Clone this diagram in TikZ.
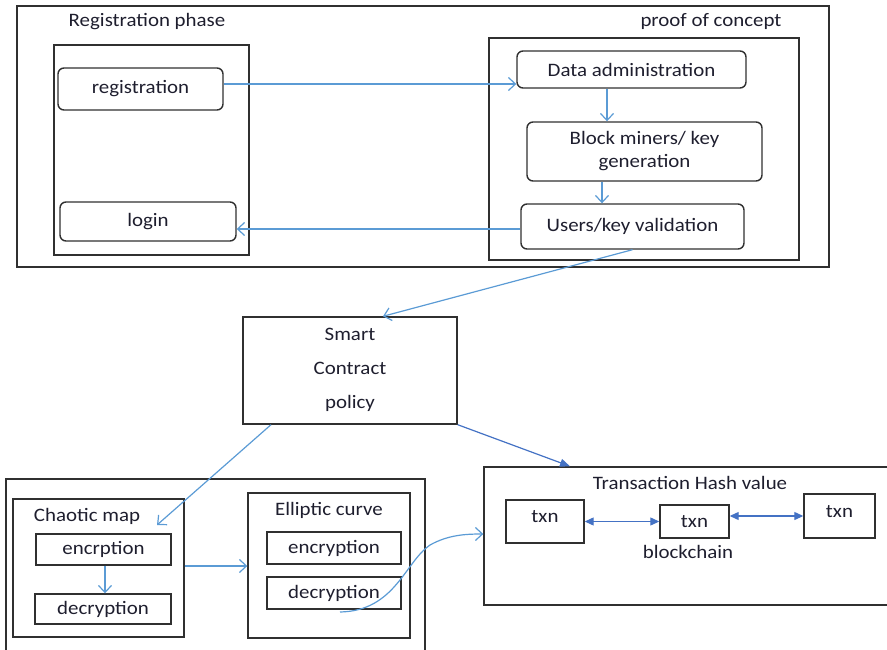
\documentclass[tikz,border=0pt]{standalone}
\usepackage{fontspec}
\setmainfont{Carlito}[FakeStretch=1.1]
\usetikzlibrary{arrows.meta}
\definecolor{lblue}{HTML}{5B9BD5}
\definecolor{dblue}{HTML}{4472C4}
\definecolor{edge}{HTML}{303030}
\definecolor{txt}{HTML}{1E1E2E}
\tikzset{
  box/.style={draw=edge, line width=1.4bp, inner sep=0pt, text=txt},
  rbox/.style={box, rounded corners=6bp},
  lbl/.style={inner sep=0pt, text=txt},
  arr/.style={draw=lblue, line width=1.2bp, -{Straight Barb[length=7bp,width=13bp]}},
  darr/.style={draw=dblue, line width=1.2bp, -{Triangle[length=10bp,width=8bp]}},
  dbl/.style={draw=dblue, line width=1.2bp, {Triangle[length=9bp,width=8bp]}-{Triangle[length=9bp,width=8bp]}},
}
\begin{document}
\begin{tikzpicture}[x=1bp,y=-1bp, font=\fontsize{19bp}{23bp}\selectfont]
\useasboundingbox (0,0) rectangle (887,650);
% top part
\node[box, minimum width=812bp, minimum height=261bp] (outerTop) at (423,136.5) {};
\node[lbl] (regPhase) at (147,22) {Registration phase};
\node[lbl] (poc) at (711,22) {proof of concept};
\node[box, minimum width=195bp, minimum height=210bp] (leftIn) at (151.5,150) {};
\node[rbox, minimum width=165bp, minimum height=42bp] (reg) at (140.5,89) {registration};
\node[rbox, minimum width=176bp, minimum height=39bp] (login) at (148,221.5) {login};
\node[box, minimum width=310bp, minimum height=222bp] (rightIn) at (644,149) {};
\node[rbox, minimum width=229bp, minimum height=37bp] (data) at (631.5,69.5) {Data administration};
\node[rbox, minimum width=235bp, minimum height=59bp, align=center] (block) at (644.5,151.5) {Block miners/ key\\generation};
\node[rbox, minimum width=223bp, minimum height=45bp] (users) at (632.5,226.5) {Users/key validation};
% smart contract
\node[box, minimum width=214bp, minimum height=107bp] (smart) at (350,370.5) {};
\node[lbl] (sm1) at (350,334) {Smart};
\node[lbl] (sm2) at (350,368) {Contract};
\node[lbl] (sm3) at (350,403) {policy};
% bottom left
\node[box, minimum width=419bp, minimum height=185bp] (botLeft) at (215.5,571.5) {};
\node[box, minimum width=171bp, minimum height=138bp] (chaotic) at (98.5,568) {};
\node[lbl] (chT) at (87,516) {Chaotic map};
\node[box, minimum width=135bp, minimum height=31bp] (enc1) at (103.5,549.5) {encrption};
\node[box, minimum width=136bp, minimum height=30bp] (dec1) at (103,609) {decryption};
\node[box, minimum width=162bp, minimum height=145bp] (elliptic) at (329,565.5) {};
\node[lbl] (elT) at (329,510) {Elliptic curve};
\node[box, minimum width=134bp, minimum height=32bp] (enc2) at (334,548) {encryption};
\node[box, minimum width=134bp, minimum height=32bp] (dec2) at (334,593) {decryption};
% transaction
\node[box, minimum width=411bp, minimum height=138bp] (trans) at (689.5,536) {};
\node[lbl] (trT) at (690,483) {Transaction Hash value};
\node[box, minimum width=78bp, minimum height=43bp] (txn1) at (545,521.5) {};
\node[lbl] (txn1T) at (545,517) {txn};
\node[box, minimum width=69bp, minimum height=33bp] (txn2) at (694.5,521.5) {txn};
\node[box, minimum width=71bp, minimum height=44bp] (txn3) at (839.5,516) {};
\node[lbl] (txn3T) at (839.5,512) {txn};
\node[lbl] (bc) at (688,552) {blockchain};
% connectors
\draw[arr] (reg.east |- 0,84) -- (data.west |- 0,84);
\draw[arr] (data.south -| 607,0) -- (block.north -| 607,0);
\draw[arr] (block.south -| 602,0) -- (users.north -| 602,0);
\draw[arr] (users.west |- 0,229) -- (login.east |- 0,229);
\draw[arr] (users.south) -- (smart.north -| 383,0);
\coordinate (chTip) at (157,525);
\draw[arr] (smart.south -| 271,0) -- (chTip);
\draw[darr] (smart.south east) -- (trans.north -| 570,0);
\draw[arr] (chaotic.east |- 0,566) -- (elliptic.west |- 0,566);
\draw[arr] (enc1.south -| 105,0) -- (dec1.north -| 105,0);
\coordinate (cvStart) at (340,612);
\draw[arr] (cvStart) .. controls (395,611) and (405,562) .. (430,545) .. controls (448,535) and (465,534) .. (trans.west |- 0,534);
\draw[dbl] (txn1.east) -- (txn2.west);
\draw[dbl] (txn2.east |- 0,516) -- (txn3.west);
\end{tikzpicture}
\end{document}
